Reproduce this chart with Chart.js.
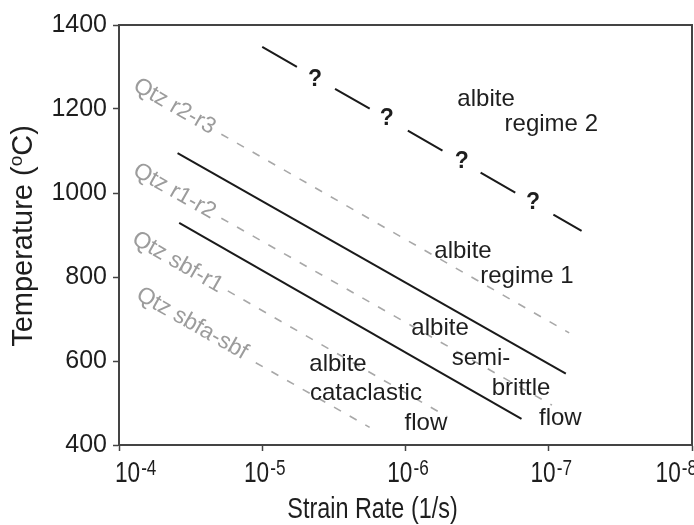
<!DOCTYPE html>
<html>
<head>
<meta charset="utf-8">
<script src="https://cdn.jsdelivr.net/npm/chart.js@4.4.1/dist/chart.umd.min.js"></script>
<style>
  html, body { margin: 0; padding: 0; background: #fff; }
</style>
</head>
<body>
<canvas id="chart" width="694" height="525"></canvas>
<script>
// Axis ticks
const xTickRates = [1e-4, 1e-5, 1e-6, 1e-7, 1e-8];
const xTickExps = ['-4', '-5', '-6', '-7', '-8'];
const yTicks = [400, 600, 800, 1000, 1200, 1400];

// Albite boundaries: strain rate (1/s) and temperature (oC) at each end
const albiteR1R2Rate = [1.0e-5, 5.9e-8];
const albiteR1R2Temp = [1348, 910];
const albiteSbR1Rate = [3.9e-5, 7.6e-8];
const albiteSbR1Temp = [1095, 570];
const albiteCatSbRate = [3.8e-5, 1.55e-7];
const albiteCatSbTemp = [929, 462];

// Quartz boundaries (grey dashed)
const qtzR2R3Rate = [1.93e-5, 7.2e-8];
const qtzR2R3Temp = [1140, 667];
const qtzR1R2Rate = [1.93e-5, 9.5e-8];
const qtzR1R2Temp = [940, 495];
const qtzSbfR1Rate = [1.74e-5, 5.1e-7];
const qtzSbfR1Temp = [767, 467];
const qtzSbfaSbfRate = [1.11e-5, 1.78e-6];
const qtzSbfaSbfTemp = [596, 442];

// Quartz line labels
const qtzLabels = ['Qtz r2-r3', 'Qtz r1-r2', 'Qtz sbf-r1', 'Qtz sbfa-sbf'];
const qtzLabelRate = [4.1e-5, 4.1e-5, 3.9e-5, 3.09e-5];
const qtzLabelTemp = [1206, 1004, 835, 689];

// Albite field labels
const regionText = ['albite', 'regime 2', 'albite', 'regime 1', 'albite', 'semi-', 'brittle', 'flow', 'albite', 'cataclastic', 'flow'];
const regionRate = [2.74e-7, 9.6e-8, 3.97e-7, 1.42e-7, 5.74e-7, 2.97e-7, 1.56e-7, 8.3e-8, 2.96e-6, 1.89e-6, 7.2e-7];
const regionTemp = [1222, 1163, 860, 801, 677, 606, 534, 463, 591, 522, 451];

// Question marks on the uncertain regime 1 / regime 2 boundary
const queryRate = [4.28e-6, 1.35e-6, 4.04e-7, 1.29e-7];
const queryTemp = [1269, 1176, 1074, 976];

const TEXT = '#1e1e1e';
const AXIS = '#444';
const GREY_TEXT = '#9c9c9c';
const GREY_LINE = '#a8a8a8';
const FONT = '"Liberation Sans", Arial, sans-serif';

function boundary(rates, temps, color, width, dash) {
  return {
    data: rates.map((r, i) => ({ x: r, y: temps[i] })),
    borderColor: color,
    borderWidth: width,
    borderDash: dash,
    pointRadius: 0,
    fill: false,
    tension: 0
  };
}

// dataset index 3..6 are the quartz lines, same order as qtzLabels
const datasets = [
  boundary(albiteR1R2Rate, albiteR1R2Temp, '#1a1a1a', 2, [40, 44]),
  boundary(albiteSbR1Rate, albiteSbR1Temp, '#1a1a1a', 2, []),
  boundary(albiteCatSbRate, albiteCatSbTemp, '#1a1a1a', 2, []),
  boundary(qtzR2R3Rate, qtzR2R3Temp, GREY_LINE, 1.6, [8, 10]),
  boundary(qtzR1R2Rate, qtzR1R2Temp, GREY_LINE, 1.6, [8, 10]),
  boundary(qtzSbfR1Rate, qtzSbfR1Temp, GREY_LINE, 1.6, [8, 10]),
  boundary(qtzSbfaSbfRate, qtzSbfaSbfTemp, GREY_LINE, 1.6, [8, 10])
];

// draw text squeezed horizontally (the figure's axis text is narrow)
function squeezed(ctx, text, px, py, font, sx, align) {
  ctx.save();
  ctx.translate(px, py);
  ctx.scale(sx, 1);
  ctx.font = font;
  ctx.textAlign = align;
  ctx.fillText(text, 0, 0);
  ctx.restore();
}

const overlayPlugin = {
  id: 'overlay',
  afterDraw(chart) {
    const { ctx, chartArea: a, scales: { x, y } } = chart;
    ctx.save();

    // top and right edges of the frame
    ctx.strokeStyle = AXIS;
    ctx.lineWidth = 2;
    ctx.beginPath();
    ctx.moveTo(a.left, a.top);
    ctx.lineTo(a.right, a.top);
    ctx.lineTo(a.right, a.bottom);
    ctx.stroke();

    ctx.fillStyle = TEXT;
    ctx.textBaseline = 'alphabetic';

    // y tick labels
    ctx.font = '25px ' + FONT;
    ctx.textAlign = 'right';
    ctx.textBaseline = 'middle';
    yTicks.forEach(v => ctx.fillText(String(v), a.left - 12, y.getPixelForValue(v)));

    // x tick labels: 10 with superscript exponent
    ctx.textBaseline = 'alphabetic';
    const sx = 0.78;
    const baseFont = '29px ' + FONT;
    const supFont = '22px ' + FONT;
    xTickRates.forEach((v, i) => {
      const px = x.getPixelForValue(v);
      ctx.font = baseFont;
      const wb = ctx.measureText('10').width * sx;
      ctx.font = supFont;
      const ws = ctx.measureText(xTickExps[i]).width * sx;
      const total = wb + 1 + ws;
      let start;
      if (i === 0) start = px - 4;
      else if (i === xTickRates.length - 1) start = px + 5 - total;
      else start = px + 2.5 - total / 2;
      squeezed(ctx, '10', start, a.bottom + 37, baseFont, sx, 'left');
      squeezed(ctx, xTickExps[i], start + wb + 1, a.bottom + 30, supFont, sx, 'left');
    });

    // x title
    squeezed(ctx, 'Strain Rate (1/s)', (a.left + a.right) / 2 - 33, a.bottom + 73, '30px ' + FONT, sx, 'center');

    // y title with superscript o
    ctx.save();
    ctx.translate(32, (a.top + a.bottom) / 2 + 1);
    ctx.rotate(-Math.PI / 2);
    const tFont = '29px ' + FONT;
    const oFont = '19px ' + FONT;
    ctx.font = tFont;
    const w1 = ctx.measureText('Temperature (').width;
    const w3 = ctx.measureText('C)').width;
    ctx.font = oFont;
    const w2 = ctx.measureText('o').width;
    let tx = -(w1 + w2 + w3) / 2;
    ctx.textAlign = 'left';
    ctx.font = tFont;
    ctx.fillText('Temperature (', tx, 0);
    tx += w1;
    ctx.font = oFont;
    ctx.fillText('o', tx, -10);
    tx += w2;
    ctx.font = tFont;
    ctx.fillText('C)', tx, 0);
    ctx.restore();

    // field labels
    ctx.textAlign = 'center';
    ctx.textBaseline = 'middle';
    ctx.font = '24px ' + FONT;
    regionText.forEach((t, i) => {
      ctx.fillText(t, x.getPixelForValue(regionRate[i]), y.getPixelForValue(regionTemp[i]));
    });

    // question marks
    ctx.font = 'bold 23px ' + FONT;
    queryRate.forEach((r, i) => {
      ctx.fillText('?', x.getPixelForValue(r), y.getPixelForValue(queryTemp[i]));
    });

    // quartz labels, rotated along their lines
    ctx.fillStyle = GREY_TEXT;
    ctx.font = '23px ' + FONT;
    qtzLabels.forEach((t, i) => {
      const pts = chart.getDatasetMeta(3 + i).data;
      const ang = Math.atan2(pts[1].y - pts[0].y, pts[1].x - pts[0].x);
      ctx.save();
      ctx.translate(x.getPixelForValue(qtzLabelRate[i]), y.getPixelForValue(qtzLabelTemp[i]));
      ctx.rotate(ang);
      ctx.fillText(t, 0, 0);
      ctx.restore();
    });

    ctx.restore();
  }
};

new Chart(document.getElementById('chart'), {
  type: 'line',
  data: { datasets },
  options: {
    responsive: false,
    animation: false,
    layout: { padding: { top: 25, right: 2, left: 0, bottom: 0 } },
    plugins: {
      legend: { display: false },
      tooltip: { enabled: false }
    },
    scales: {
      x: {
        type: 'logarithmic',
        reverse: true,
        min: 1e-8,
        max: 1e-4,
        afterBuildTicks: s => { s.ticks = xTickRates.map(v => ({ value: v })); },
        afterFit: s => { s.height = 80; },
        ticks: { display: false },
        grid: { drawOnChartArea: false, tickLength: 6, tickWidth: 1.5, tickColor: AXIS },
        border: { color: AXIS, width: 2 }
      },
      y: {
        type: 'linear',
        min: 400,
        max: 1400,
        afterBuildTicks: s => { s.ticks = yTicks.map(v => ({ value: v })); },
        afterFit: s => { s.width = 119; },
        ticks: { display: false },
        grid: { drawOnChartArea: false, tickLength: 6, tickWidth: 1.5, tickColor: AXIS },
        border: { color: AXIS, width: 2 }
      }
    }
  },
  plugins: [overlayPlugin]
});
</script>
</body>
</html>
